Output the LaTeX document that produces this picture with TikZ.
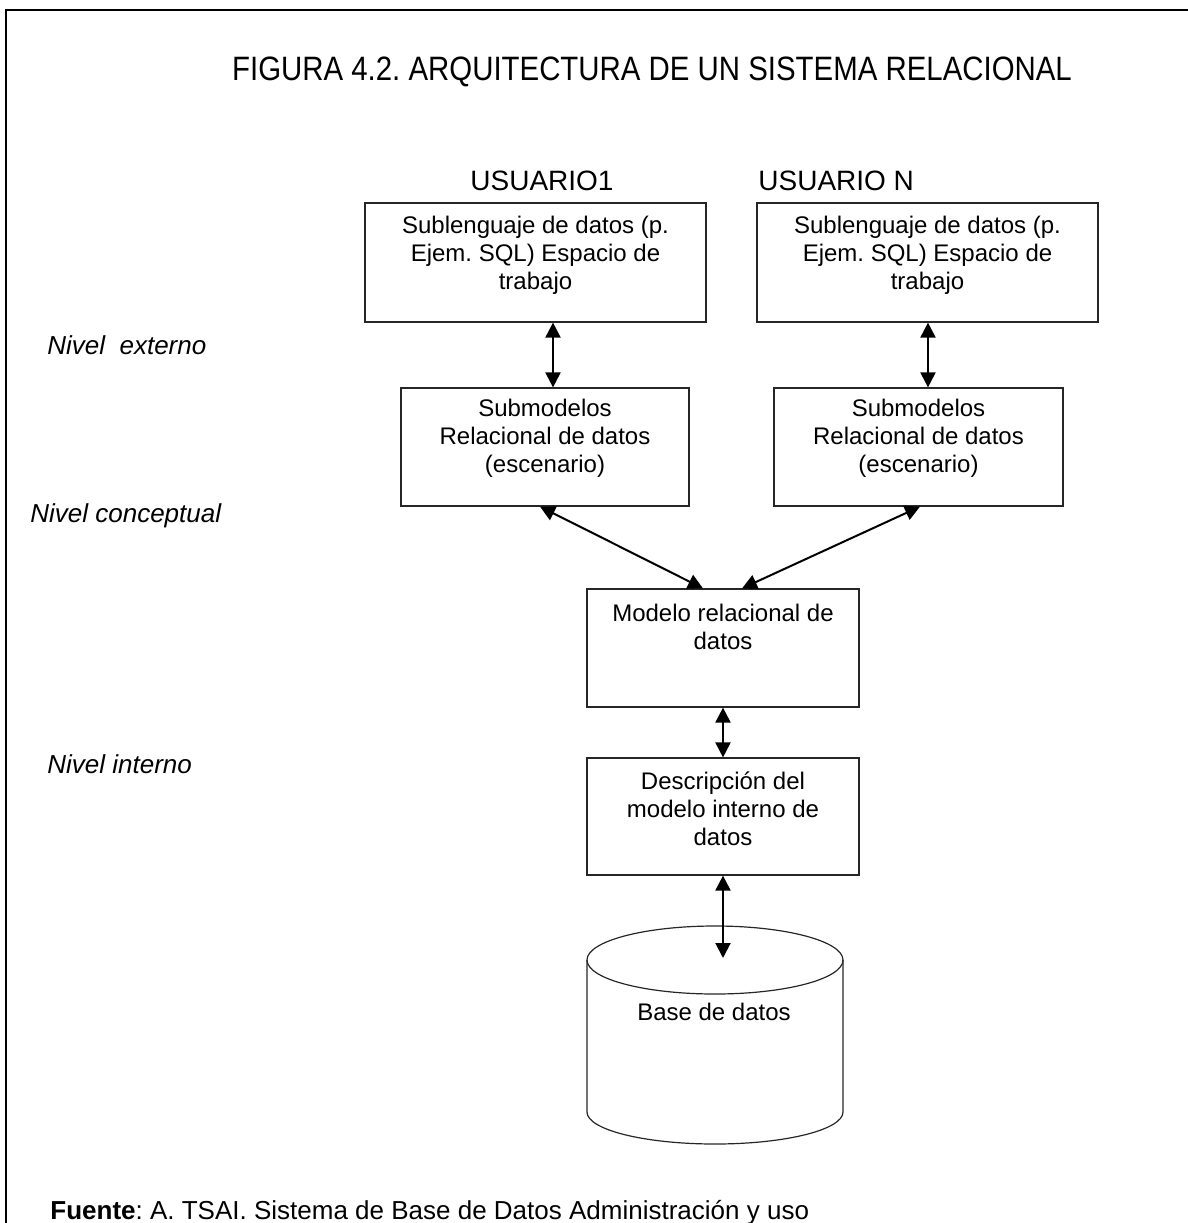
\documentclass[tikz,border=0pt]{standalone}
\usepackage{fontspec}
\setmainfont{Liberation Sans}
\usetikzlibrary{arrows.meta,calc}
\frenchspacing
\begin{document}
\begin{tikzpicture}[x=0.5pt,y=-0.5pt,
  box/.style={draw=black!85, line width=0.6pt, inner sep=0pt},
  boxtext/.style={inner sep=0pt, align=center, anchor=north, font=\fontsize{12}{14}\selectfont},
  level/.style={inner sep=0pt, anchor=base west, font=\fontsize{13}{15}\selectfont\itshape},
  user/.style={inner sep=0pt, anchor=base west, font=\fontsize{14}{16}\selectfont},
  link/.style={line width=1pt, {Triangle[length=7.5pt,width=7.5pt]}-{Triangle[length=7.5pt,width=7.5pt]}},
  frame/.style={line width=1pt}]

\useasboundingbox (0,0) rectangle (1188,1223);

% open frame: top rule and left rule
\draw[frame] (1188,10) -- (6,10) -- (6,1223);

% heading
\node[inner sep=0pt, anchor=base, font=\fontsize{14.7}{17}\selectfont] (title) at (652,80)
  {\scalebox{1}[1.15]{FIGURA 4.2. ARQUITECTURA DE UN SISTEMA RELACIONAL}};

% user captions
\node[user] (user1) at (470,190) {USUARIO1};
\node[user] (userN) at (758,190) {USUARIO N};

% level captions
\node[level] (lext) at (47,354) {Nivel\ \ externo};
\node[level] (lcon) at (30,522) {Nivel conceptual};
\node[level] (lint) at (47,773) {Nivel interno};

% external level: work spaces
\node[box, minimum width=170.5pt, minimum height=59.5pt] (ws1) at (535.5,262.5) {};
\node[boxtext] (ws1t) at ([yshift=-6.75pt]ws1.north)
  {Sublenguaje de datos (p.\\ Ejem. SQL) Espacio de\\ trabajo};
\node[box, minimum width=170.5pt, minimum height=59.5pt] (wsN) at (927.5,262.5) {};
\node[boxtext] (wsNt) at ([yshift=-6.75pt]wsN.north)
  {Sublenguaje de datos (p.\\ Ejem. SQL) Espacio de\\ trabajo};

% relational submodels
\node[box, minimum width=144pt, minimum height=59pt] (sm1) at (545,447) {};
\node[boxtext] (sm1t) at ([yshift=-5.75pt]sm1.north)
  {Submodelos\\ Relacional de datos\\ (escenario)};
\node[box, minimum width=144.5pt, minimum height=59pt] (smN) at (918.5,447) {};
\node[boxtext] (smNt) at ([yshift=-5.75pt]smN.north)
  {Submodelos\\ Relacional de datos\\ (escenario)};

% conceptual model
\node[box, minimum width=136pt, minimum height=59pt] (mr) at (723,648) {};
\node[boxtext] (mrt) at ([yshift=-7.75pt]mr.north)
  {Modelo relacional de\\ datos};

% internal model
\node[box, minimum width=136pt, minimum height=58.5pt] (di) at (723,816.5) {};
\node[boxtext] (dit) at ([yshift=-7.25pt]di.north)
  {Descripción del\\ modelo interno de\\ datos};

% database cylinder
\draw[box] (715,960) ellipse [x radius=64pt, y radius=17pt];
\draw[box] (587,960) -- (587,1112)
  arc [start angle=180, end angle=360, x radius=64pt, y radius=16pt] -- (843,960);
\node[inner sep=0pt, anchor=base, font=\fontsize{12}{14}\selectfont] (db) at (714,1020) {Base de datos};
\coordinate (dbtop) at (723,958);

% connectors
\coordinate (c1) at (553,0);
\coordinate (c2) at (928,0);
\draw[link] (ws1.south -| c1) -- (sm1.north -| c1);
\draw[link] (wsN.south -| c2) -- (smN.north -| c2);
\draw[link] ([xshift=-2.5pt]sm1.south) -- ([xshift=-10pt]mr.north);
\draw[link] ([xshift=0.75pt]smN.south) -- ([xshift=9.5pt]mr.north);
\draw[link] (mr.south) -- (di.north);
\draw[link] (di.south) -- (dbtop);

% source note
\node[inner sep=0pt, anchor=base west, font=\fontsize{13}{15}\selectfont] (src) at (50,1219)
  {\textbf{Fuente}: A. TSAI. Sistema de Base de Datos Administración y uso};
\end{tikzpicture}
\end{document}
